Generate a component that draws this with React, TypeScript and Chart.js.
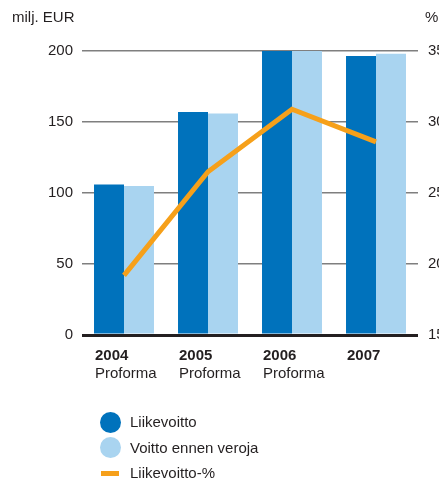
import React, { useEffect, useRef } from "react";
import { Chart, registerables } from "chart.js";

Chart.register(...registerables);

const years = ["2004", "2005", "2006", "2007"];
const subLabels = ["Proforma", "Proforma", "Proforma", ""];
const operatingProfit = [106, 157, 200, 196.5];
const profitBeforeTax = [105, 156, 200.5, 198];
const operatingMarginPct = [19.2, 26.5, 30.9, 28.6];
const leftAxisMin = 0;
const leftAxisMax = 200;
const leftAxisStep = 50;
const rightAxisMin = 15;
const rightAxisMax = 35;
const rightAxisStep = 5;
const legendLabels = ["Liikevoitto", "Voitto ennen veroja", "Liikevoitto-%"];
const leftUnit = "milj. EUR";
const rightUnit = "%";

const DARK = "#0072bc";
const LIGHT = "#a9d4f0";
const ORANGE = "#f6a01a";
const TEXT = "#231f20";
const FONT = "'Liberation Sans', Arial, Helvetica, sans-serif";

export default function App() {
  const ref = useRef<HTMLCanvasElement | null>(null);

  useEffect(() => {
    document.body.style.margin = "0";
    const canvas = ref.current;
    if (!canvas) return;
    const chart = new Chart(canvas, {
      type: "bar",
      data: {
        labels: years,
        datasets: [
          {
            type: "line",
            label: legendLabels[2],
            data: operatingMarginPct,
            yAxisID: "y1",
            xAxisID: "x",
            borderColor: ORANGE,
            backgroundColor: ORANGE,
            borderWidth: 5,
            pointRadius: 0,
            pointHoverRadius: 0,
            tension: 0,
            borderCapStyle: "butt",
            borderJoinStyle: "miter",
            order: 0,
          } as any,
          {
            type: "bar",
            label: legendLabels[0],
            data: operatingProfit,
            yAxisID: "y",
            xAxisID: "x",
            backgroundColor: DARK,
            borderWidth: 0,
            categoryPercentage: 0.714,
            barPercentage: 1,
            order: 1,
          },
          {
            type: "bar",
            label: legendLabels[1],
            data: profitBeforeTax,
            yAxisID: "y",
            xAxisID: "x",
            backgroundColor: LIGHT,
            borderWidth: 0,
            categoryPercentage: 0.714,
            barPercentage: 1,
            order: 2,
          },
        ],
      },
      options: {
        responsive: false,
        animation: false,
        devicePixelRatio: 1,
        layout: { padding: { top: 51, left: 0, right: 0, bottom: 101 } },
        plugins: {
          legend: { display: false },
          tooltip: { enabled: false },
          title: { display: false },
        },
        font: { family: FONT },
        scales: {
          x: {
            type: "category",
            position: "bottom",
            offset: true,
            grid: { display: false, drawTicks: false },
            border: { display: false },
            ticks: {
              color: TEXT,
              font: { family: FONT, size: 15, weight: "bold" },
              align: "start",
              labelOffset: -29,
              padding: 12,
              maxRotation: 0,
              autoSkip: false,
            },
            afterFit: (scale: any) => {
              scale.height = 30;
            },
          },
          x2: {
            type: "category",
            position: "bottom",
            labels: subLabels,
            offset: true,
            grid: { display: false, drawTicks: false },
            border: { display: false },
            ticks: {
              color: TEXT,
              font: { family: FONT, size: 15 },
              align: "start",
              labelOffset: -29,
              padding: 0,
              maxRotation: 0,
              autoSkip: false,
            },
            afterFit: (scale: any) => {
              scale.height = 18;
            },
          },
          y: {
            position: "left",
            min: leftAxisMin,
            max: leftAxisMax,
            border: { display: false },
            grid: {
              drawTicks: false,
              color: (ctx: any) => (ctx.tick && ctx.tick.value === 0 ? TEXT : "#7f7f7f"),
              lineWidth: (ctx: any) => (ctx.tick && ctx.tick.value === 0 ? 3 : 1.5),
            },
            ticks: {
              stepSize: leftAxisStep,
              color: TEXT,
              font: { family: FONT, size: 15 },
              padding: 9,
            },
            afterFit: (scale: any) => {
              scale.width = 82;
            },
          },
          y1: {
            position: "right",
            min: rightAxisMin,
            max: rightAxisMax,
            border: { display: false },
            grid: { display: false, drawTicks: false },
            ticks: {
              stepSize: rightAxisStep,
              color: TEXT,
              font: { family: FONT, size: 15 },
              padding: 10,
            },
            afterFit: (scale: any) => {
              scale.width = 21;
            },
          },
        },
      } as any,
    });
    return () => chart.destroy();
  }, []);

  const textStyle: React.CSSProperties = {
    position: "absolute",
    fontFamily: FONT,
    fontSize: 15,
    lineHeight: "18px",
    color: TEXT,
    whiteSpace: "nowrap",
  };

  return (
    <div style={{ position: "absolute", left: 0, top: 0, width: 439, height: 484, overflow: "hidden", background: "#fff" }}>
      <canvas ref={ref} width={439} height={484} style={{ position: "absolute", left: 0, top: 0, width: 439, height: 484 }} />
      <div style={{ ...textStyle, left: 12, top: 8 }}>{leftUnit}</div>
      <div style={{ ...textStyle, left: 425, top: 8 }}>{rightUnit}</div>
      <div style={{ position: "absolute", left: 100, top: 412, width: 21, height: 21, borderRadius: "50%", background: DARK }} />
      <div style={{ ...textStyle, left: 130, top: 413 }}>{legendLabels[0]}</div>
      <div style={{ position: "absolute", left: 100, top: 437, width: 21, height: 21, borderRadius: "50%", background: LIGHT }} />
      <div style={{ ...textStyle, left: 130, top: 439 }}>{legendLabels[1]}</div>
      <div style={{ position: "absolute", left: 101, top: 471, width: 18, height: 5, background: ORANGE }} />
      <div style={{ ...textStyle, left: 130, top: 464 }}>{legendLabels[2]}</div>
    </div>
  );
}
